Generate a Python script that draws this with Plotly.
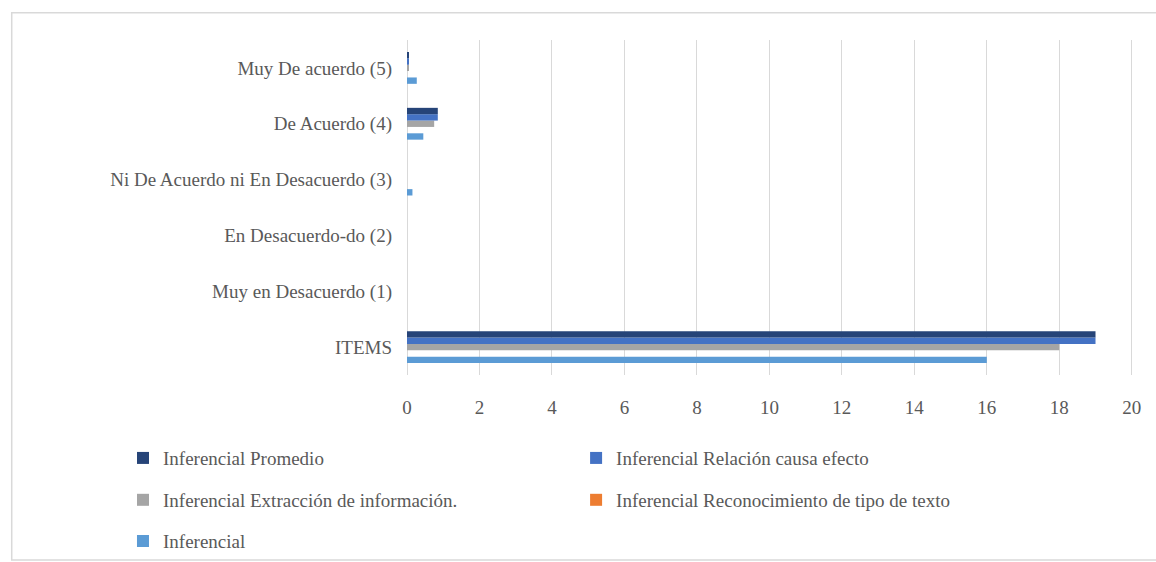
import plotly.graph_objects as go

categories = [
    "ITEMS",
    "Muy en Desacuerdo (1)",
    "En Desacuerdo-do (2)",
    "Ni De Acuerdo ni En Desacuerdo (3)",
    "De Acuerdo (4)",
    "Muy De acuerdo (5)",
]

# values per category (same order as categories)
inferencial = [16, 0, 0, 0.15, 0.45, 0.27]
reconocimiento = [0, 0, 0, 0, 0, 0]
extraccion = [18, 0, 0, 0, 0.75, 0.05]
relacion = [19, 0, 0, 0, 0.85, 0.05]
promedio = [19, 0, 0, 0, 0.85, 0.05]

x_ticks = list(range(0, 21, 2))

FONT = "Liberation Serif"
TXT = "#595959"
SIZE = 19

# first trace ends at the bottom of each group
series = [
    ("Inferencial", inferencial, "#5B9BD5", "legend5", -0.388, -0.496),
    ("Inferencial Reconocimiento de tipo de texto", reconocimiento, "#ED7D31", "legend4", 0.231, -0.373),
    ("Inferencial Extracción de información.", extraccion, "#A5A5A5", "legend3", -0.388, -0.373),
    ("Inferencial Relación causa efecto", relacion, "#4472C4", "legend2", 0.231, -0.248),
    ("Inferencial Promedio", promedio, "#264478", "legend", -0.388, -0.248),
]

fig = go.Figure()
legend_layout = {}
for name, vals, color, leg, lx, ly in series:
    fig.add_trace(
        go.Bar(
            y=categories,
            x=vals,
            name=name,
            orientation="h",
            marker_color=color,
            marker_line_width=0,
            legend=leg,
        )
    )
    legend_layout[leg] = dict(
        x=lx,
        y=ly,
        xanchor="left",
        yanchor="middle",
        bgcolor="rgba(0,0,0,0)",
        font=dict(family=FONT, size=SIZE, color=TXT),
        itemwidth=30,
    )

fig.update_layout(
    width=1156,
    height=562,
    margin=dict(l=407, r=17, t=40, b=187, autoexpand=False),
    barmode="group",
    bargap=0.43,
    bargroupgap=0,
    plot_bgcolor="white",
    paper_bgcolor="white",
    font=dict(family=FONT, size=SIZE, color=TXT),
    showlegend=True,
    **legend_layout,
)

fig.update_xaxes(
    range=[0, 20.2],
    tickvals=x_ticks,
    showgrid=True,
    gridcolor="#D9D9D9",
    gridwidth=1,
    zeroline=True,
    zerolinecolor="#D9D9D9",
    zerolinewidth=1,
    showline=False,
    automargin=False,
    ticklabelstandoff=19,
    tickfont=dict(family=FONT, size=SIZE, color=TXT),
)
fig.update_yaxes(
    categoryorder="array",
    categoryarray=categories,
    showgrid=False,
    showline=False,
    automargin=False,
    ticklabelstandoff=14,
    tickfont=dict(family=FONT, size=SIZE, color=TXT),
)

# light chart-area border
fig.add_shape(
    type="rect",
    xref="paper",
    yref="paper",
    x0=-0.54,
    x1=1.1,
    y0=-0.552,
    y1=1.081,
    line=dict(color="#D9D9D9", width=1.5),
    fillcolor="rgba(0,0,0,0)",
    layer="below",
)

# drop the browser's default page margin so the figure fills the window
fig.write_html(
    "out.html",
    config={"displayModeBar": False},
    post_script="document.body.style.margin='0px';",
)
